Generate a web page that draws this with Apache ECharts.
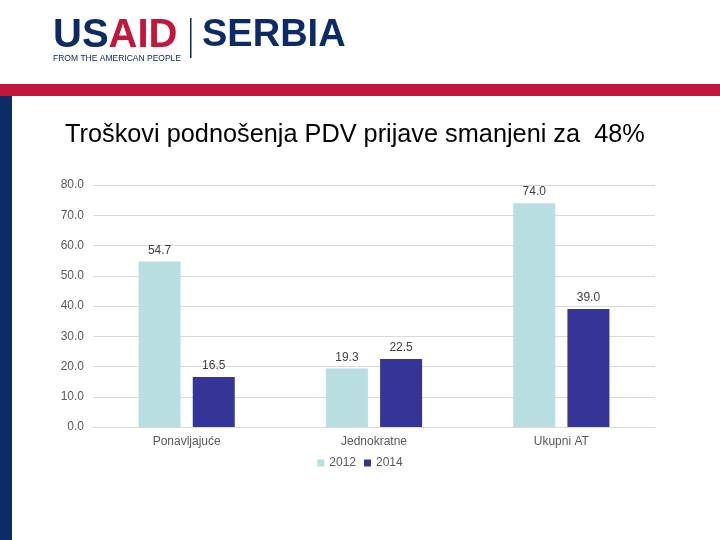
<!DOCTYPE html>
<html><head><meta charset="utf-8">
<script src="https://cdn.jsdelivr.net/npm/echarts@6/dist/echarts.min.js"></script>
<style>html,body{margin:0;padding:0;background:#fff}#c{width:720px;height:540px}</style>
</head><body><div id="c"></div>
<script>
const categories = ['Ponavljajuće', 'Jednokratne', 'Ukupni AT'];
const series2012 = [54.7, 19.3, 74.0];
const series2014 = [16.5, 22.5, 39.0];
const yTicks = [0, 10, 20, 30, 40, 50, 60, 70, 80];

const chart = echarts.init(document.getElementById('c'), null, {renderer: 'canvas'});
const font = '"Liberation Sans", Arial, sans-serif';
chart.setOption({
  animation: false,
  backgroundColor: '#ffffff',
  graphic: [
    {type: 'rect', shape: {x: 0, y: 84, width: 720, height: 12}, style: {fill: '#C1173C'}},
    {type: 'rect', shape: {x: 0, y: 96, width: 12, height: 444}, style: {fill: '#0B2A66'}},
    {type: 'text', left: 53, top: 16, style: {rich: {a: {fill: '#0B2A66', fontSize: 40, fontWeight: 'bold', fontFamily: font}, b: {fill: '#C1173C', fontSize: 40, fontWeight: 'bold', fontFamily: font}}, text: '{a|US}{b|AID}'}},
    {type: 'text', left: 53, top: 54, style: {text: 'FROM THE AMERICAN PEOPLE', fill: '#0B2A66', fontSize: 8.5, fontFamily: font}},
    {type: 'rect', shape: {x: 190, y: 18, width: 1.5, height: 40}, style: {fill: '#0B2A66'}},
    {type: 'text', left: 202, top: 17, style: {text: 'SERBIA', fill: '#0B2A66', fontSize: 38, fontWeight: 'bold', fontFamily: font}}
  ],
  title: {
    text: 'Troškovi podnošenja PDV prijave smanjeni za  48%',
    left: 60, top: 118,
    textStyle: {fontFamily: font, fontSize: 25.3, fontWeight: 'normal', color: '#000000'}
  },
  legend: {
    bottom: 66, left: 'center',
    itemWidth: 7, itemHeight: 7, itemGap: 8,
    icon: 'rect',
    textStyle: {fontFamily: font, fontSize: 12, color: '#595959'},
    data: ['2012', '2014']
  },
  grid: {left: 93, right: 65, top: 185, bottom: 113, containLabel: false},
  xAxis: {
    type: 'category', data: categories,
    axisLine: {lineStyle: {color: '#d9d9d9'}},
    axisTick: {show: false},
    axisLabel: {fontFamily: font, fontSize: 12, color: '#595959', margin: 9}
  },
  yAxis: {
    type: 'value', min: 0, max: 80, interval: 10,
    axisLine: {show: false}, axisTick: {show: false},
    splitLine: {lineStyle: {color: '#d9d9d9'}},
    axisLabel: {fontFamily: font, fontSize: 12, color: '#595959', margin: 9,
      formatter: v => yTicks.includes(v) ? v.toFixed(1) : ''}
  },
  series: [
    {name: '2012', type: 'bar', data: series2012, barWidth: 42, barGap: '29%',
      itemStyle: {color: '#B8DEE2'},
      label: {show: true, position: 'top', distance: 5, fontFamily: font, fontSize: 12, color: '#404040', formatter: p => p.value.toFixed(1)}},
    {name: '2014', type: 'bar', data: series2014, barWidth: 42,
      itemStyle: {color: '#353598'},
      label: {show: true, position: 'top', distance: 5, fontFamily: font, fontSize: 12, color: '#404040', formatter: p => p.value.toFixed(1)}}
  ]
});
</script></body></html>
